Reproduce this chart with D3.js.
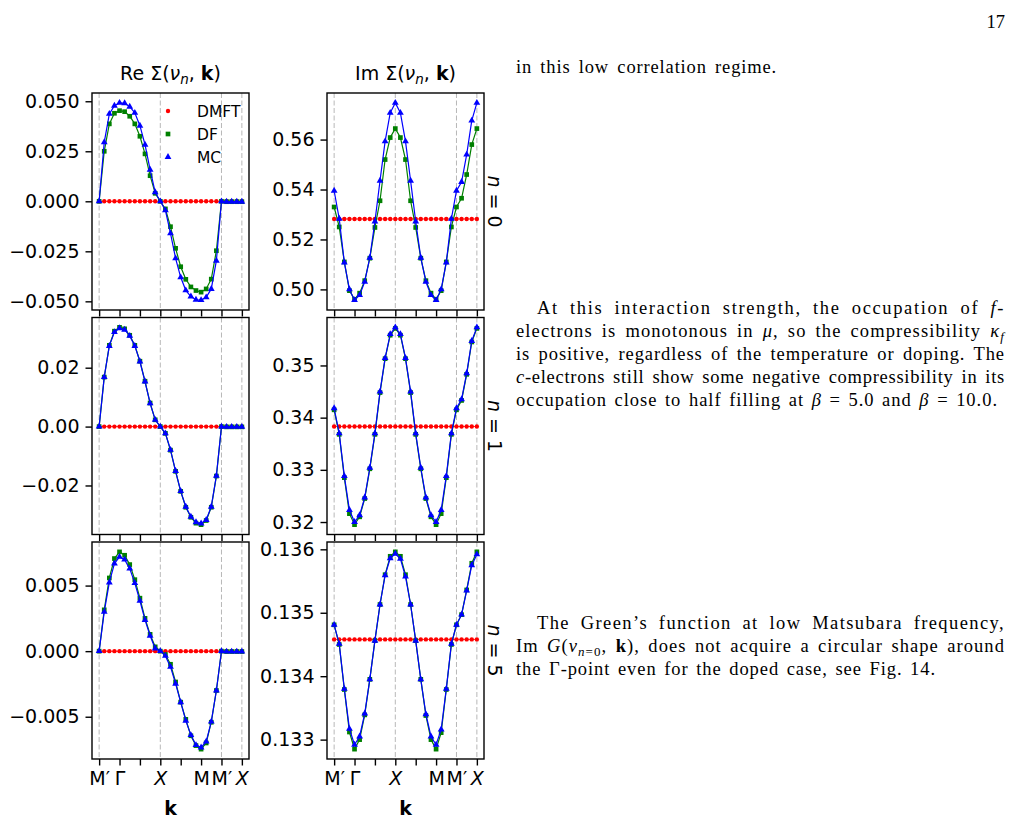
<!DOCTYPE html>
<html>
<head>
<meta charset="utf-8">
<script src="https://cdn.jsdelivr.net/npm/d3@7"></script>
<style>
body { margin: 0; background: #fff; }
</style>
</head>
<body>
<svg id="canvas" width="1012" height="822"></svg>
<script>
// k path: M' -> Gamma -> X -> M -> M' -> X, 29 points
const kPoints = [0,1,2,3,4,5,6,7,8,9,10,11,12,13,14,15,16,17,18,19,20,21,22,23,24,25,26,27,28]
const kTickPos = [0, 4, 8, 12, 16, 20, 24, 28]
const kTickLabels = ['M′', 'Γ', '', 'X', '', 'M', 'M′', 'X']
const kGrid = [0, 12, 24, 28]

// Re Sigma
const reDMFT0 = [0,0,0,0,0,0,0,0,0,0,0,0,0,0,0,0,0,0,0,0,0,0,0,0,0,0,0,0,0]
const reDF0 = [0, 0.0250, 0.0387, 0.0440, 0.0453, 0.0448, 0.0425, 0.0387, 0.0325, 0.0237, 0.0128, 0.0040, 0, -0.0038, -0.0127, -0.0235, -0.0327, -0.0390, -0.0428, -0.0446, -0.0454, -0.0438, -0.0389, -0.0247, 0, -0.0002, -0.0002, -0.0002, -0.0002]
const reMC0 = [0, 0.0295, 0.0437, 0.0478, 0.0492, 0.0490, 0.0473, 0.0442, 0.0378, 0.0283, 0.0158, 0.0045, 0, -0.0045, -0.0160, -0.0285, -0.0380, -0.0445, -0.0476, -0.0492, -0.0494, -0.0480, -0.0438, -0.0297, 0, -0.0002, -0.0002, -0.0002, -0.0002]

const reDMFT1 = [0,0,0,0,0,0,0,0,0,0,0,0,0,0,0,0,0,0,0,0,0,0,0,0,0,0,0,0,0]
const reDF1 = [0, 0.0168, 0.0276, 0.0324, 0.0337, 0.0332, 0.0310, 0.0276, 0.0222, 0.0154, 0.0080, 0.0023, 0, -0.0023, -0.0080, -0.0152, -0.0220, -0.0274, -0.0308, -0.0328, -0.0333, -0.0319, -0.0274, -0.0168, 0, -0.0001, -0.0001, -0.0001, -0.0001]
const reMC1 = [0, 0.0168, 0.0274, 0.0321, 0.0334, 0.0329, 0.0308, 0.0274, 0.0221, 0.0153, 0.0079, 0.0023, 0, -0.0023, -0.0079, -0.0151, -0.0219, -0.0272, -0.0306, -0.0325, -0.0329, -0.0317, -0.0272, -0.0167, 0, -0.0001, -0.0001, -0.0001, -0.0001]

const reDMFT5 = [0,0,0,0,0,0,0,0,0,0,0,0,0,0,0,0,0,0,0,0,0,0,0,0,0,0,0,0,0]
const reDF5 = [0, 0.00315, 0.00558, 0.00706, 0.00757, 0.00731, 0.00660, 0.00545, 0.00404, 0.00250, 0.00128, 0.00033, 0, -0.00026, -0.00100, -0.00235, -0.00389, -0.00520, -0.00645, -0.00720, -0.00747, -0.00700, -0.00542, -0.00300, 0, -0.00003, -0.00003, -0.00003, -0.00003]
const reMC5 = [0, 0.00300, 0.00524, 0.00668, 0.00719, 0.00698, 0.00629, 0.00519, 0.00384, 0.00238, 0.00118, 0.00020, 0, -0.00036, -0.00120, -0.00248, -0.00389, -0.00530, -0.00640, -0.00716, -0.00734, -0.00690, -0.00537, -0.00300, 0, -0.00003, -0.00003, -0.00003, -0.00003]

// Im Sigma
const imDMFT0 = [0.5282,0.5282,0.5282,0.5282,0.5282,0.5282,0.5282,0.5282,0.5282,0.5282,0.5282,0.5282,0.5282,0.5282,0.5282,0.5282,0.5282,0.5282,0.5282,0.5282,0.5282,0.5282,0.5282,0.5282,0.5282,0.5282,0.5282,0.5282,0.5282]
const imDF0 = [0.5330, 0.5250, 0.5110, 0.4995, 0.4960, 0.4985, 0.5035, 0.5125, 0.5248, 0.5355, 0.5520, 0.5608, 0.5644, 0.5608, 0.5520, 0.5355, 0.5248, 0.5125, 0.5035, 0.4985, 0.4960, 0.4995, 0.5110, 0.5250, 0.5330, 0.5365, 0.5460, 0.5580, 0.5644]
const imMC0 = [0.5395, 0.5283, 0.5108, 0.5000, 0.4957, 0.4977, 0.5030, 0.5127, 0.5272, 0.5435, 0.5593, 0.5707, 0.5747, 0.5707, 0.5593, 0.5435, 0.5272, 0.5127, 0.5030, 0.4977, 0.4957, 0.5000, 0.5108, 0.5283, 0.5395, 0.5430, 0.5540, 0.5676, 0.5747]

const imDMFT1 = [0.3383,0.3383,0.3383,0.3383,0.3383,0.3383,0.3383,0.3383,0.3383,0.3383,0.3383,0.3383,0.3383,0.3383,0.3383,0.3383,0.3383,0.3383,0.3383,0.3383,0.3383,0.3383,0.3383,0.3383,0.3383,0.3383,0.3383,0.3383,0.3383]
const imDF1 = [0.3415, 0.3368, 0.3285, 0.3216, 0.3195, 0.3210, 0.3245, 0.3302, 0.3368, 0.3448, 0.3513, 0.3558, 0.3571, 0.3558, 0.3513, 0.3448, 0.3368, 0.3302, 0.3245, 0.3210, 0.3195, 0.3216, 0.3285, 0.3368, 0.3415, 0.3433, 0.3483, 0.3545, 0.3571]
const imMC1 = [0.3418, 0.3370, 0.3288, 0.3223, 0.3200, 0.3213, 0.3247, 0.3304, 0.3370, 0.3450, 0.3514, 0.3560, 0.3573, 0.3560, 0.3514, 0.3450, 0.3370, 0.3304, 0.3247, 0.3213, 0.3200, 0.3223, 0.3288, 0.3370, 0.3418, 0.3435, 0.3485, 0.3547, 0.3573]

const imDMFT5 = [0.13458,0.13458,0.13458,0.13458,0.13458,0.13458,0.13458,0.13458,0.13458,0.13458,0.13458,0.13458,0.13458,0.13458,0.13458,0.13458,0.13458,0.13458,0.13458,0.13458,0.13458,0.13458,0.13458,0.13458,0.13458,0.13458,0.13458,0.13458,0.13458]
const imDF5 = [0.13481, 0.13450, 0.13379, 0.13312, 0.13285, 0.13300, 0.13339, 0.13395, 0.13456, 0.13513, 0.13560, 0.13589, 0.13596, 0.13589, 0.13560, 0.13513, 0.13456, 0.13395, 0.13338, 0.13300, 0.13285, 0.13311, 0.13379, 0.13450, 0.13481, 0.13497, 0.13536, 0.13578, 0.13596]
const imMC5 = [0.13481, 0.13451, 0.13380, 0.13317, 0.13292, 0.13305, 0.13341, 0.13395, 0.13456, 0.13513, 0.13559, 0.13586, 0.13593, 0.13585, 0.13557, 0.13513, 0.13456, 0.13395, 0.13340, 0.13305, 0.13292, 0.13316, 0.13380, 0.13451, 0.13481, 0.13497, 0.13535, 0.13575, 0.13592]

// y tick values per panel
const reTicks0 = [-0.05, -0.025, 0, 0.025, 0.05]
const reTicks1 = [-0.02, 0, 0.02]
const reTicks5 = [-0.005, 0, 0.005]
const imTicks0 = [0.50, 0.52, 0.54, 0.56]
const imTicks1 = [0.32, 0.33, 0.34, 0.35]
const imTicks5 = [0.133, 0.134, 0.135, 0.136]

const seriesNames = ['DMFT', 'DF', 'MC']
const rowLabels = ['0', '1', '5']

let svg = d3.select('#canvas')
const colX = [92, 327]
const rowY = [93, 317.5, 542]
const pw = 157, ph = 217
const colors = ['#ff0000', '#008000', '#0000ff']
const SANS = '"DejaVu Sans", sans-serif'

svg.append('rect').attr('width', 1012).attr('height', 822).attr('fill', '#fff')

const panels = [
  {col: 0, row: 0, s: [reDMFT0, reDF0, reMC0], ticks: reTicks0, fmt: '.3f'},
  {col: 0, row: 1, s: [reDMFT1, reDF1, reMC1], ticks: reTicks1, fmt: '.2f'},
  {col: 0, row: 2, s: [reDMFT5, reDF5, reMC5], ticks: reTicks5, fmt: '.3f'},
  {col: 1, row: 0, s: [imDMFT0, imDF0, imMC0], ticks: imTicks0, fmt: '.2f'},
  {col: 1, row: 1, s: [imDMFT1, imDF1, imMC1], ticks: imTicks1, fmt: '.2f'},
  {col: 1, row: 2, s: [imDMFT5, imDF5, imMC5], ticks: imTicks5, fmt: '.3f'}
]

let x = d3.scaleLinear().domain([-1.4, 29.4]).range([0, pw])

let drawMarker = (sel, k, c) => {
  if (k === 0) {
    sel.append('circle').attr('r', 2.2).attr('fill', c)
  } else if (k === 1) {
    sel.append('path').attr('d', d3.symbol(d3.symbolSquare, 22)()).attr('fill', c)
  } else {
    sel.append('path').attr('d', d3.symbol(d3.symbolTriangle, 20)()).attr('fill', c)
  }
}

panels.forEach(p => {
  let g = svg.append('g').attr('transform', `translate(${colX[p.col]},${rowY[p.row]})`)
  let ext = d3.extent(p.s.flat())
  let pad = (ext[1] - ext[0]) * 0.05
  let y = d3.scaleLinear().domain([ext[0] - pad, ext[1] + pad]).range([ph, 0])

  g.selectAll('.grid')
    .data(kGrid)
    .enter()
    .append('line')
    .attr('x1', d => x(d)).attr('x2', d => x(d))
    .attr('y1', 0).attr('y2', ph)
    .attr('stroke', '#b8b8b8')
    .attr('stroke-width', 1)
    .attr('stroke-dasharray', '5,2.5')

  p.s.forEach((vals, k) => {
    let line = d3.line().x((d, i) => x(kPoints[i])).y(d => y(d))
    g.append('path')
      .attr('d', line(vals))
      .attr('fill', 'none')
      .attr('stroke', colors[k])
      .attr('stroke-width', k === 0 ? 0.8 : 1.2)
    let m = g.selectAll('.m' + k)
      .data(vals)
      .enter()
      .append('g')
      .attr('transform', (d, i) => `translate(${x(kPoints[i])},${y(d)})`)
    drawMarker(m, k, colors[k])
  })

  let yAxis = d3.axisLeft(y).tickValues(p.ticks).tickFormat(d3.format(p.fmt)).tickSize(6.5).tickPadding(6)
  let ya = g.append('g').call(yAxis)
  ya.select('.domain').remove()
  ya.attr('font-size', 19).attr('font-family', SANS)
  ya.selectAll('line').attr('stroke-width', 1.4)
  ya.selectAll('text').attr('fill', '#000')

  let xAxis = d3.axisBottom(x).tickValues(kTickPos)
    .tickFormat((d, i) => p.row === 2 ? kTickLabels[i] : '')
    .tickSize(6.5).tickPadding(6)
  let xa = g.append('g').attr('transform', `translate(0,${ph})`).call(xAxis)
  xa.select('.domain').remove()
  xa.attr('font-size', 19).attr('font-family', SANS)
  xa.selectAll('line').attr('stroke-width', 1.4)
  xa.selectAll('text').attr('fill', '#000')
    .attr('font-style', d => kTickLabels[kTickPos.indexOf(d)] === 'X' ? 'italic' : 'normal')

  g.append('rect')
    .attr('width', pw).attr('height', ph)
    .attr('fill', 'none').attr('stroke', '#000').attr('stroke-width', 1.4)
})

// titles
const titleWords = ['Re', 'Im']
titleWords.forEach((w, c) => {
  let t = svg.append('text')
    .attr('x', colX[c] + pw / 2).attr('y', 80)
    .attr('text-anchor', 'middle')
    .attr('font-family', SANS).attr('font-size', 19)
  t.append('tspan').text(w + ' Σ(')
  t.append('tspan').attr('font-style', 'italic').text('ν')
  t.append('tspan').attr('font-style', 'italic').attr('font-size', 13.5).attr('dy', 4).text('n')
  t.append('tspan').attr('dy', -4).text(', ')
  t.append('tspan').attr('font-weight', 'bold').text('k')
  t.append('tspan').text(')')

  svg.append('text')
    .attr('x', colX[c] + pw / 2).attr('y', 815)
    .attr('text-anchor', 'middle')
    .attr('font-family', SANS).attr('font-size', 19).attr('font-weight', 'bold')
    .text('k')
})

// right-side row labels
rowLabels.forEach((r, i) => {
  let t = svg.append('text')
    .attr('transform', `translate(488,${rowY[i] + ph / 2}) rotate(90)`)
    .attr('text-anchor', 'middle')
    .attr('font-family', SANS).attr('font-size', 19)
  t.append('tspan').attr('font-style', 'italic').text('n')
  t.append('tspan').text(' = ' + r)
})

// legend
let lg = svg.append('g').attr('transform', 'translate(168,111)')
seriesNames.forEach((n, k) => {
  let row = lg.append('g').attr('transform', `translate(0,${k * 23})`)
  drawMarker(row, k, colors[k])
  row.append('text')
    .attr('x', 29).attr('dy', '0.36em')
    .attr('font-family', SANS).attr('font-size', 15.5)
    .text(n)
})

// page text
const pageLines = [
  {x: 516, y: 73, end: 777, parts: [['in this low correlation regime.']]},
  {x: 537, y: 314, end: 1005, parts: [['At this interaction strength, the occupation of '], ['f', 'i'], ['-']]},
  {x: 516, y: 337, end: 1005, parts: [['electrons is monotonous in '], ['μ', 'i'], [', so the compressibility '], ['κ', 'i'], ['f', 'isub']]},
  {x: 516, y: 360, end: 1005, parts: [['is positive, regardless of the temperature or doping. The']]},
  {x: 516, y: 383, end: 1005, parts: [['c', 'i'], ['-electrons still show some negative compressibility in its']]},
  {x: 516, y: 406, end: 998, parts: [['occupation close to half filling at '], ['β', 'i'], [' = 5.0 and '], ['β', 'i'], [' = 10.0.']]},
  {x: 537, y: 629, end: 1005, parts: [['The Green’s function at low Matsubara frequency,']]},
  {x: 516, y: 652, end: 1005, parts: [['Im '], ['G', 'i'], ['('], ['ν', 'i'], ['n', 'isub'], ['=0', 'sub'], [', '], ['k', 'b'], ['), does not acquire a circular shape around']]},
  {x: 516, y: 675, end: 936, parts: [['the Γ-point even for the doped case, see Fig. 14.']]}
]

pageLines.forEach(l => {
  let t = svg.append('text')
    .attr('x', l.x).attr('y', l.y)
    .attr('font-family', '"Liberation Serif", serif').attr('font-size', 18.5)
  let shift = 0
  l.parts.forEach(([s, st]) => {
    let ts = t.append('tspan').text(s)
    if (st && st.includes('i')) ts.attr('font-style', 'italic')
    if (st === 'b') ts.attr('font-weight', 'bold')
    let sub = st && st.includes('sub') ? 4 : 0
    if (sub !== shift) ts.attr('dy', sub - shift)
    if (sub) ts.attr('font-size', 13)
    shift = sub
  })
  let natural = t.node().getComputedTextLength()
  let txt = l.parts.map(p => p[0]).join('')
  let nSpaces = (txt.match(/ /g) || []).length
  let extra = l.end - l.x - natural
  t.attr('letter-spacing', extra * 0.7 / txt.length)
    .attr('word-spacing', extra * 0.3 / Math.max(1, nSpaces))
})

svg.append('text')
  .attr('x', 1005).attr('y', 28).attr('text-anchor', 'end')
  .attr('font-family', '"Liberation Serif", serif').attr('font-size', 18.5)
  .text('17')
</script>
</body>
</html>
